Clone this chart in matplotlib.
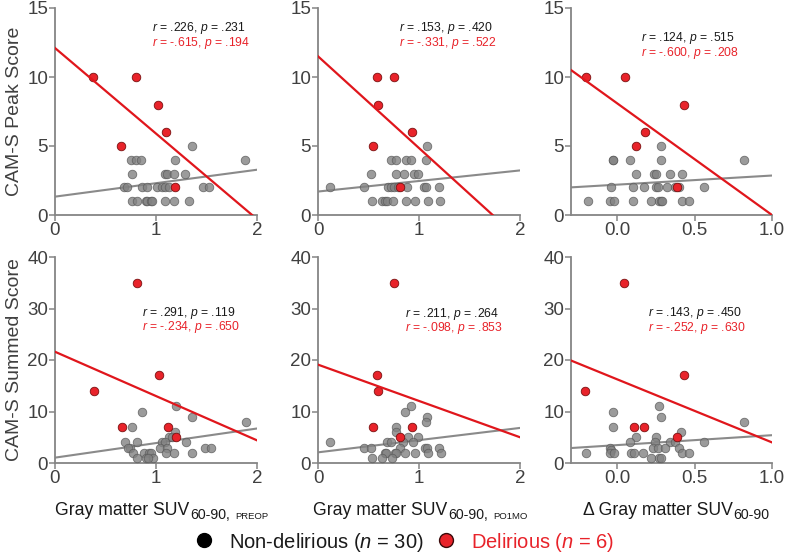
import matplotlib
matplotlib.use("Agg")
import matplotlib.pyplot as plt
from matplotlib.lines import Line2D
import numpy as np

plt.rcParams['font.family'] = ['Liberation Sans', 'DejaVu Sans']
plt.rcParams['mathtext.fontset'] = 'custom'
plt.rcParams['mathtext.rm'] = 'Liberation Sans'
plt.rcParams['mathtext.it'] = 'Liberation Sans:italic'
plt.rcParams['mathtext.bf'] = 'Liberation Sans:bold'

# ---------------- data ----------------
# Panel 1: PREOP vs peak
p1_gray_x = [1.36, 0.75, 0.80, 0.85, 1.19, 1.88, 0.76, 1.09, 1.11, 1.18, 1.29,
             0.68, 0.71, 0.86, 0.91, 1.01, 1.06, 1.09, 1.13, 1.47, 1.52,
             0.76, 0.81, 0.90, 0.91, 0.95, 0.96, 1.09, 1.18, 1.33]
p1_gray_y = [5, 4, 4, 4, 4, 4, 3, 3, 3, 3, 3,
             2, 2, 2, 2, 2, 2, 2, 2, 2, 2,
             1, 1, 1, 1, 1, 1, 1, 1, 1]
p1_red_x = [0.38, 0.80, 1.02, 1.10, 0.65, 1.19]
peak_red_y = [10, 10, 8, 6, 5, 2]

# Panel 2: PO1MO vs peak
p2_gray_x = [1.08, 0.72, 0.77, 0.87, 0.92, 1.07, 0.52, 0.77, 0.85, 0.95, 0.99,
             0.12, 0.46, 0.69, 0.72, 0.75, 0.79, 0.88, 1.05, 1.07, 1.20,
             0.53, 0.63, 0.66, 0.68, 0.74, 0.87, 0.96, 1.09, 1.21]
p2_gray_y = [5, 4, 4, 4, 4, 4, 3, 3, 3, 3, 3,
             2, 2, 2, 2, 2, 2, 2, 2, 2, 2,
             1, 1, 1, 1, 1, 1, 1, 1, 1]
p2_red_x = [0.58, 0.75, 0.59, 0.93, 0.54, 0.81]

# Panel 3: delta vs peak
p3_gray_x = [0.28, -0.03, -0.03, 0.08, 0.28, 0.82, 0.12, 0.24, 0.25, 0.34, 0.42,
             -0.04, 0.10, 0.17, 0.25, 0.26, 0.32, 0.37, 0.40, 0.56,
             -0.19, -0.05, -0.02, 0.10, 0.22, 0.27, 0.28, 0.29, 0.42, 0.46]
p3_gray_y = [5, 4, 4, 4, 4, 4, 3, 3, 3, 3, 3,
             2, 2, 2, 2, 2, 2, 2, 2, 2,
             1, 1, 1, 1, 1, 1, 1, 1, 1, 1]
p3_red_x = [-0.20, 0.05, 0.43, 0.18, 0.12, 0.385]

# Panel 4: PREOP vs summed
p4_gray_x = [0.86, 1.20, 1.36, 1.89, 0.76, 1.19, 1.13, 1.16, 0.69, 0.81, 1.06, 1.30,
             1.09, 0.74, 1.04, 1.11, 1.49, 1.54, 0.72, 0.77, 0.88, 0.93, 0.95, 1.10,
             1.18, 1.36, 0.81, 0.90, 0.97, 0.92]
p4_gray_y = [10, 11, 9, 8, 7, 6, 5, 5, 4, 4, 4, 4,
             4, 3, 3, 3, 3, 3, 3, 2, 2, 2, 2, 2,
             2, 2, 1, 1, 1, 1]
p4_red_x = [0.81, 0.385, 1.03, 0.66, 1.12, 1.20]
summed_red_y = [35, 14, 17, 7, 7, 5]

# Panel 5: PO1MO vs summed
p5_gray_x = [0.92, 0.86, 1.08, 1.07, 0.77, 0.77, 0.89, 0.99, 0.12, 0.68, 0.72, 0.84,
             0.94, 0.46, 0.52, 0.81, 1.06, 1.08, 1.20, 0.66, 0.67, 0.76, 0.77, 0.86,
             0.96, 1.09, 1.22, 0.53, 0.63, 0.73]
p5_gray_y = [11, 10, 9, 8, 7, 6, 5, 5, 4, 4, 4, 4,
             4, 3, 3, 3, 3, 3, 3, 2, 2, 2, 2, 2,
             2, 2, 2, 1, 1, 1]
p5_red_x = [0.75, 0.59, 0.58, 0.54, 0.93, 0.81]

# Panel 6: delta vs summed
p6_gray_x = [-0.03, 0.27, 0.28, 0.82, -0.03, 0.41, 0.12, 0.25, 0.08, 0.245, 0.34, 0.37,
             0.56, -0.05, 0.23, 0.26, 0.31, 0.40, -0.04, -0.20, -0.05, -0.02, 0.09, 0.105,
             0.165, 0.42, 0.46, 0.22, 0.27, 0.285]
p6_gray_y = [10, 11, 9, 8, 7, 6, 5, 5, 4, 4, 4, 4,
             4, 3, 3, 3, 3, 3, 2.6, 2, 2, 2, 2, 2,
             2, 2, 2, 1, 1, 1]
p6_red_x = [0.045, -0.21, 0.43, 0.11, 0.17, 0.385]

# regression lines (intercept, slope)
gray_fit = [(1.33, 0.975), (1.70, 0.765), (2.20, 0.66),
            (1.04, 2.83), (2.07, 2.37), (3.48, 1.92)]
red_fit = [(12.1, -6.2), (11.5, -6.65), (8.08, -8.08),
           (21.6, -8.6), (19.1, -7.05), (16.23, -12.23)]

gray_stats = ['.226', '.231', '.153', '.420', '.124', '.515',
              '.291', '.119', '.211', '.264', '.143', '.450']
red_stats = ['-.615', '.194', '-.331', '.522', '-.600', '.208',
             '-.234', '.650', '-.098', '.853', '-.252', '.630']

# x-label pieces: (text, fontsize, baseline drop in px)
x_labels = [
    [('Gray matter SUV', 12.7, 0), ('60-90,', 10.2, 4), ('PREOP', 6.8, 4)],
    [('Gray matter SUV', 12.7, 0), ('60-90,', 10.2, 4), ('PO1MO', 6.8, 4)],
    [('\u0394 Gray matter SUV', 12.7, 0), ('60-90', 10.2, 4)],
]
y_labels = ['CAM-S Peak Score', 'CAM-S Summed Score']
legend_labels = [r'Non-delirious ($\mathit{n}$ = 30)', r'Delirious ($\mathit{n}$ = 6)']

panels = [
    (p1_gray_x, p1_gray_y, p1_red_x, peak_red_y),
    (p2_gray_x, p2_gray_y, p2_red_x, peak_red_y),
    (p3_gray_x, p3_gray_y, p3_red_x, peak_red_y),
    (p4_gray_x, p4_gray_y, p4_red_x, summed_red_y),
    (p5_gray_x, p5_gray_y, p5_red_x, summed_red_y),
    (p6_gray_x, p6_gray_y, p6_red_x, summed_red_y),
]

# ---------------- layout ----------------
W, H = 789, 556
fig = plt.figure(figsize=(W / 100, H / 100), dpi=100)

lefts = [55, 318, 571]
widths = [202, 202, 201]
tops = [8, 257]
heights = [207, 206]

txt_pos = [(0.48, 0.905), (0.40, 0.905), (0.35, 0.855),
           (0.43, 0.73), (0.43, 0.725), (0.385, 0.727)]

GRAY_TXT = '#404040'
SPINE = '#858585'
RED = '#e8232a'

axes = []
for i, (gx, gy, rx, ry) in enumerate(panels):
    r, c = divmod(i, 3)
    l = lefts[c] / W
    b = 1 - (tops[r] + heights[r]) / H
    ax = fig.add_axes([l, b, widths[c] / W, heights[r] / H])
    axes.append(ax)
    if c < 2:
        xlim = (0, 2)
        xt = [0, 1, 2]
        xtl = ['0', '1', '2']
    else:
        xlim = (-0.3, 1.0)
        xt = [0.0, 0.5, 1.0]
        xtl = ['0.0', '0.5', '1.0']
    if r == 0:
        ylim = (0, 15)
        yt = [0, 5, 10, 15]
    else:
        ylim = (0, 40)
        yt = [0, 10, 20, 30, 40]
    ax.set_xlim(*xlim)
    ax.set_ylim(*ylim)
    ax.set_xticks(xt)
    ax.set_xticklabels(xtl)
    ax.set_yticks(yt)

    xs = np.linspace(xlim[0], xlim[1], 50)
    gi, gs = gray_fit[i]
    ax.plot(xs, gi + gs * xs, color='#8a8a8a', lw=1.5, zorder=2)
    ax.scatter(gx, gy, s=38, facecolor='#828282', edgecolor='#5a5a5a',
               linewidths=0.6, alpha=0.8, zorder=3, clip_on=False)
    ax.scatter(rx, ry, s=38, facecolor=RED, edgecolor='#7a1010',
               linewidths=0.6, zorder=4, clip_on=False)
    ri, rs = red_fit[i]
    ax.plot(xs, ri + rs * xs, color='#e0161c', lw=1.6, zorder=5)

    for s in ['top', 'right']:
        ax.spines[s].set_visible(False)
    for s in ['left', 'bottom']:
        ax.spines[s].set_color(SPINE)
        ax.spines[s].set_linewidth(1.3)
    ax.tick_params(axis='both', colors=SPINE, labelcolor=GRAY_TXT,
                   labelsize=13.5, length=4, width=1.1, pad=1)

    tx, ty = txt_pos[i]
    ax.text(tx, ty, r'$\mathit{r}$ = %s, $\mathit{p}$ = %s' % (gray_stats[2*i], gray_stats[2*i+1]),
            transform=ax.transAxes, fontsize=8.7, color='#1a1a1a', va='center', ha='left')
    ax.text(tx, ty - 0.072, r'$\mathit{r}$ = %s, $\mathit{p}$ = %s' % (red_stats[2*i], red_stats[2*i+1]),
            transform=ax.transAxes, fontsize=8.7, color=RED, va='center', ha='left')

    if c == 0:
        ax.set_ylabel(y_labels[r], fontsize=14, color=GRAY_TXT, labelpad=3)

# x labels composed of main text + subscripts
renderer = fig.canvas.get_renderer()
xl_centers = [162, 420, 676]
baseline_y = 515
for cx, parts in zip(xl_centers, x_labels):
    items = []
    total = 0
    for k, (s, size, dy) in enumerate(parts):
        t = fig.text(0, 0, s, fontsize=size, ha='left', va='baseline', color='#1a1a1a')
        w = t.get_window_extent(renderer).width
        gap = 1 if k == 1 else (5 if k == 2 else 0)
        items.append((t, w, dy, gap))
        total += w + gap
    x = cx - total / 2
    for t, w, dy, gap in items:
        x += gap
        t.set_position((x / W, 1 - (baseline_y + dy) / H))
        x += w

# legend
handles = [Line2D([], [], ls='none', marker='o', markersize=10, markerfacecolor='black',
                  markeredgecolor='black'),
           Line2D([], [], ls='none', marker='o', markersize=10, markerfacecolor=RED,
                  markeredgecolor='#3a0a0a')]
leg = fig.legend(handles, legend_labels,
                 loc='center', bbox_to_anchor=(404 / W, 1 - 542 / H), ncol=2, frameon=False,
                 fontsize=14.5, handletextpad=0.75, columnspacing=0.6, handlelength=1.0)
leg.get_texts()[0].set_color('#1a1a1a')
leg.get_texts()[1].set_color(RED)

fig.savefig('out.png', dpi=100)
